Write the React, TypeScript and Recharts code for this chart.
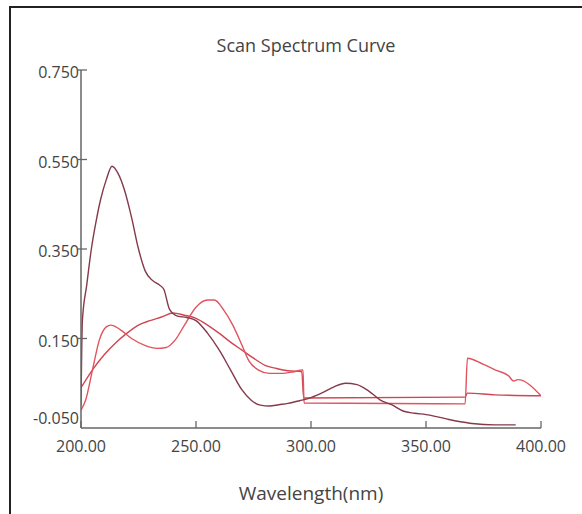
import { LineChart, Line, XAxis, YAxis } from 'recharts'

// wavelength (nm) and absorbance
const tallPeakWl = [200, 200.6, 202.5, 204.5, 206.5, 208.5, 211, 213.5, 216, 219, 222, 225, 228, 231, 234, 236, 238.5, 242, 246, 250, 255, 260, 265, 270, 274, 278, 282, 286, 290, 295, 300, 305, 310, 315, 320, 325, 330, 335, 340, 345, 350, 355, 360, 365, 370, 380, 389]
const tallPeakAbs = [0.0, 0.19, 0.27, 0.35, 0.41, 0.46, 0.505, 0.535, 0.52, 0.48, 0.42, 0.35, 0.3, 0.28, 0.27, 0.26, 0.215, 0.2, 0.197, 0.19, 0.162, 0.125, 0.08, 0.035, 0.012, 0.001, -0.001, 0.002, 0.005, 0.011, 0.018, 0.029, 0.042, 0.05, 0.047, 0.033, 0.013, 0.002, -0.012, -0.017, -0.02, -0.025, -0.031, -0.036, -0.04, -0.043, -0.043]

const dipWl = [200, 202, 205, 208, 211, 213, 217, 222, 228, 233, 237, 241, 245, 250, 255, 258, 262, 266, 270, 273, 277, 282, 287, 292, 296.5, 297, 367, 368, 375, 380, 386, 388, 390, 400]
const dipAbs = [-0.01, 0.012, 0.08, 0.147, 0.176, 0.18, 0.17, 0.15, 0.134, 0.128, 0.13, 0.147, 0.18, 0.22, 0.236, 0.236, 0.214, 0.18, 0.135, 0.1, 0.08, 0.072, 0.072, 0.075, 0.08, 0.006, 0.004, 0.106, 0.092, 0.08, 0.066, 0.055, 0.058, 0.022]

const smoothWl = [200, 205, 210, 215, 220, 225, 230, 235, 240, 245, 250, 255, 260, 265, 270, 275, 280, 285, 290, 296, 296.8, 367, 368, 380, 400]
const smoothAbs = [0.04, 0.08, 0.113, 0.14, 0.162, 0.18, 0.19, 0.198, 0.207, 0.202, 0.195, 0.18, 0.162, 0.142, 0.124, 0.106, 0.09, 0.083, 0.078, 0.076, 0.017, 0.019, 0.028, 0.024, 0.022]

const xTicks = [200, 250, 300, 350, 400]
const yTicks = [-0.05, 0.15, 0.35, 0.55, 0.75]

const toRows = (wl: number[], abs: number[]) => wl.map((w, i) => ({ w, v: abs[i] }))

const font = '"Open Sans", sans-serif'
const textColor = '#444'
const axisColor = '#666'

const XTick = ({ x, y, payload }: any) => (
  <g>
    <line x1={x} y1={y} x2={x} y2={y - 7} stroke={axisColor} strokeWidth={1.3} />
    <text x={x} y={y + 24} textAnchor="middle" fill={textColor} fontSize={16} fontFamily={font}>
      {Number(payload.value).toFixed(2)}
    </text>
  </g>
)

const YTick = ({ x, y, payload }: any) => {
  const bottom = payload.value < 0
  return (
    <g>
      {!bottom && <line x1={x - 3} y1={y} x2={x + 6} y2={y} stroke={axisColor} strokeWidth={1.3} />}
      <text x={x - 2} y={bottom ? y - 4 : y + 8} textAnchor="end" fill={textColor} fontSize={16} fontFamily={font}>
        {Number(payload.value).toFixed(3)}
      </text>
    </g>
  )
}

export default function App() {
  return (
    <div style={{ position: 'absolute', left: 0, top: 0, width: 582, height: 514, background: '#fff', overflow: 'hidden' }}>
      <div style={{ position: 'absolute', left: 9, top: 6, width: 600, height: 600, borderLeft: '2px solid #222', borderTop: '2px solid #222' }} />
      <div style={{ position: 'absolute', left: 0, top: 33, width: 612, textAlign: 'center', fontFamily: font, fontSize: 18, color: textColor }}>
        Scan Spectrum Curve
      </div>
      <LineChart width={582} height={514} margin={{ top: 70, right: 41, bottom: 56, left: 21 }} style={{ position: 'absolute', left: 0, top: 0 }}>
        <XAxis
          dataKey="w"
          type="number"
          domain={[200, 400]}
          ticks={xTicks}
          allowDataOverflow
          height={30}
          tickSize={0}
          tickMargin={0}
          tick={<XTick />}
          axisLine={{ stroke: axisColor, strokeWidth: 1.5 }}
        />
        <YAxis
          type="number"
          domain={[-0.05, 0.75]}
          ticks={yTicks}
          allowDataOverflow
          width={60}
          tickSize={0}
          tickMargin={0}
          tick={<YTick />}
          axisLine={{ stroke: axisColor, strokeWidth: 1.5 }}
        />
        <Line type="monotone" data={toRows(smoothWl, smoothAbs)} dataKey="v" stroke="#cf4652" strokeWidth={1.4} dot={false} isAnimationActive={false} />
        <Line type="monotone" data={toRows(dipWl, dipAbs)} dataKey="v" stroke="#e0545e" strokeWidth={1.4} dot={false} isAnimationActive={false} />
        <Line type="monotone" data={toRows(tallPeakWl, tallPeakAbs)} dataKey="v" stroke="#85394a" strokeWidth={1.4} dot={false} isAnimationActive={false} />
      </LineChart>
      <div style={{ position: 'absolute', left: 0, top: 480, width: 622, textAlign: 'center', fontFamily: font, fontSize: 19, color: textColor }}>
        Wavelength(nm)
      </div>
    </div>
  )
}
